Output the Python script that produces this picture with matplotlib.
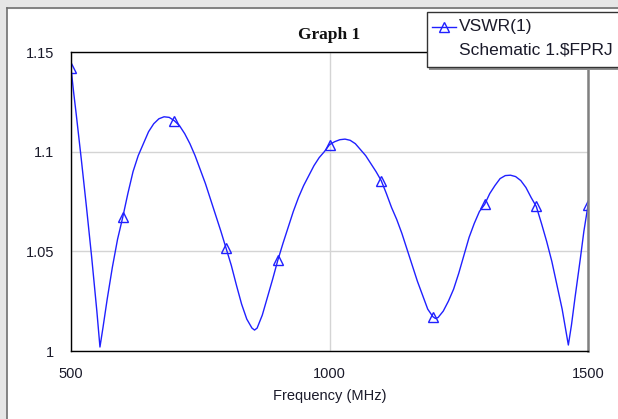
import matplotlib
matplotlib.use("Agg")
import matplotlib.pyplot as plt
from matplotlib.patches import Rectangle
from matplotlib.lines import Line2D

# curve (MHz, VSWR)
freq = [500, 505, 510, 520, 530, 540, 550, 556, 562, 570, 580, 590,
        600, 610, 620, 630, 640, 650, 660, 670, 680, 690, 700, 710, 720, 730,
        740, 750, 760, 770, 780, 790, 800, 810, 820, 830, 840, 850, 855, 860,
        870, 880, 890, 900, 910, 920, 930, 940, 950, 960, 970, 980, 990,
        1000, 1010, 1020, 1030, 1040, 1050, 1060, 1070, 1080, 1090, 1100,
        1110, 1120, 1130, 1140, 1150, 1160, 1170, 1180, 1190, 1200, 1205,
        1210, 1220, 1230, 1240, 1250, 1260, 1270, 1280, 1290, 1300, 1310,
        1320, 1330, 1340, 1350, 1360, 1370, 1380, 1390, 1400, 1410, 1420,
        1430, 1440, 1450, 1456, 1462, 1468, 1475, 1485, 1492, 1500]
vswr = [1.142, 1.130, 1.119, 1.096, 1.072, 1.047, 1.020, 1.002, 1.012, 1.026,
        1.042, 1.056,
        1.067, 1.079, 1.090, 1.098, 1.104, 1.110, 1.114, 1.1165, 1.1175,
        1.1172, 1.1155, 1.113, 1.109, 1.104, 1.098, 1.091, 1.084, 1.076,
        1.068, 1.060, 1.0515, 1.043, 1.033, 1.0235, 1.016, 1.0115, 1.0105,
        1.0115, 1.018, 1.027, 1.036, 1.0455, 1.054, 1.062, 1.070, 1.077,
        1.083, 1.088, 1.093, 1.097, 1.100,
        1.1035, 1.105, 1.106, 1.1063, 1.1057, 1.104, 1.101, 1.098, 1.094,
        1.090, 1.0855, 1.079, 1.072, 1.066, 1.059, 1.051, 1.043, 1.035,
        1.028, 1.021, 1.0172, 1.0163, 1.0168, 1.020, 1.025, 1.031, 1.039,
        1.048, 1.057, 1.064, 1.070, 1.0735, 1.079, 1.083, 1.0865, 1.088,
        1.0882, 1.0875, 1.0855, 1.082, 1.077, 1.0725, 1.064, 1.055, 1.045,
        1.033, 1.021, 1.012, 1.003, 1.013, 1.027, 1.046, 1.060, 1.073]

# triangle markers every 100 MHz
mark_freq = [500, 600, 700, 800, 900, 1000, 1100, 1200, 1300, 1400, 1500]
mark_vswr = [1.142, 1.067, 1.1155, 1.0515, 1.0455, 1.1035, 1.0855, 1.0172,
             1.0735, 1.0725, 1.073]

x_ticks = [500, 1000, 1500]
y_ticks = [1, 1.05, 1.1, 1.15]
y_labels = ["1", "1.05", "1.1", "1.15"]

plt.rcParams['font.family'] = ['Liberation Sans', 'DejaVu Sans']
blue = '#2020ff'
txt = '#1a1a2a'

fig = plt.figure(figsize=(6.18, 4.19), dpi=100)
W, H = 618, 419

# grey window border on top and left
fig.patches.append(Rectangle((0, 1 - 8 / H), 1, 8 / H, transform=fig.transFigure,
                             color='#e6e6e6', zorder=0))
fig.patches.append(Rectangle((0, 0), 6 / W, 1, transform=fig.transFigure,
                             color='#e6e6e6', zorder=0))
fig.add_artist(Line2D([6.5 / W, 1], [1 - 8.5 / H, 1 - 8.5 / H], color='#707070', lw=1.2))
fig.add_artist(Line2D([6.5 / W, 6.5 / W], [0, 1 - 8.5 / H], color='#707070', lw=1.2))

ax = fig.add_axes([71 / W, 1 - 351 / H, (588 - 71) / W, (351 - 52) / H])
ax.plot(freq, vswr, color=blue, lw=1.0)
ax.plot(mark_freq, mark_vswr, linestyle='none', marker='^', markersize=7,
        markerfacecolor='none', markeredgecolor=blue, markeredgewidth=1.0)

ax.set_xlim(500, 1500)
ax.set_ylim(1, 1.15)
ax.set_xticks(x_ticks)
ax.set_xticklabels([str(t) for t in x_ticks])
ax.set_yticks(y_ticks)
ax.set_yticklabels(y_labels)
ax.tick_params(length=0, labelsize=10.5, labelcolor=txt)
ax.tick_params(axis='x', pad=11.5)
ax.tick_params(axis='y', pad=12)
ax.grid(True, color='#d4d4d4', lw=1.0)
ax.set_axisbelow(True)
for s in ['top', 'left', 'bottom']:
    ax.spines[s].set_color('black')
    ax.spines[s].set_linewidth(1.0)
ax.spines['right'].set_color('#808080')
ax.spines['right'].set_linewidth(1.8)

ax.set_xlabel('Frequency (MHz)', fontsize=10.5, color=txt, labelpad=6)
fig.text(329 / W, 1 - 35 / H, 'Graph 1', ha='center', va='center',
         family='Liberation Serif', fontweight='bold', fontsize=12.5, color='#111111')

# legend box with shadow, running off the right edge
fig.patches.append(Rectangle((429 / W, 1 - 70 / H), 200 / W, 56 / H,
                             transform=fig.transFigure, facecolor='#909090',
                             edgecolor='none', zorder=5))
fig.patches.append(Rectangle((427 / W, 1 - 67 / H), 200 / W, 55 / H,
                             transform=fig.transFigure, facecolor='white',
                             edgecolor='#333333', lw=1.0, zorder=6))
fig.add_artist(Line2D([432 / W, 456 / W], [1 - 27 / H, 1 - 27 / H],
                      color=blue, lw=1.0, zorder=7))
fig.add_artist(Line2D([444 / W], [1 - 27 / H], marker='^', markersize=7,
                      markerfacecolor='none', markeredgecolor=blue, zorder=7))
fig.text(459 / W, 1 - 27 / H, 'VSWR(1)', ha='left', va='center', fontsize=12.5,
         color=txt, zorder=8)
fig.text(459 / W, 1 - 50 / H, 'Schematic 1.$FPRJ', ha='left', va='center',
         fontsize=12.5, color=txt, zorder=8)

fig.savefig('out.png', dpi=100)
